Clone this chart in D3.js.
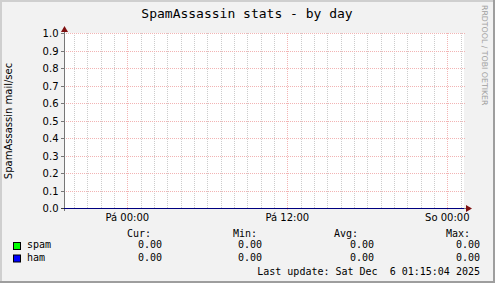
<!DOCTYPE html>
<html>
<head>
<meta charset="utf-8">
<title>SpamAssassin stats - by day</title>
<script src="https://cdn.jsdelivr.net/npm/d3@7"></script>
<style>
  body { margin: 0; background: #f2f2f2; }
  svg text { fill: #000; }
  .mono { font-family: "DejaVu Sans Mono", monospace; }
  .sans { font-family: "DejaVu Sans", sans-serif; }
</style>
</head>
<body>
<script>
// ---- data ----
var sampleTimes = ["2025-12-04T19:15:04", "2025-12-05T00:00:00", "2025-12-05T06:00:00",
                   "2025-12-05T12:00:00", "2025-12-05T18:00:00", "2025-12-06T00:00:00",
                   "2025-12-06T01:15:04"];
var spamValues = [0, 0, 0, 0, 0, 0, 0];
var hamValues  = [0, 0, 0, 0, 0, 0, 0];

var yTicks = [0.0, 0.1, 0.2, 0.3, 0.4, 0.5, 0.6, 0.7, 0.8, 0.9, 1.0];
var xMajorTimes  = ["2025-12-05T00:00:00", "2025-12-05T12:00:00", "2025-12-06T00:00:00"];
var xMajorLabels = ["Pá 00:00", "Pá 12:00", "So 00:00"];

var seriesNames  = ["spam", "ham"];
var seriesColors = ["#00ff00", "#0000ff"];
var statHeads = ["Cur:", "Min:", "Avg:", "Max:"];
var statValues = [["0.00", "0.00", "0.00", "0.00"],
                  ["0.00", "0.00", "0.00", "0.00"]];
var lastUpdate = "Last update: Sat Dec  6 01:15:04 2025";

var W = 495, H = 283;
var parse = d3.utcParse("%Y-%m-%dT%H:%M:%S");
var tStart = parse(sampleTimes[0]), tEnd = parse(sampleTimes[sampleTimes.length - 1]);

// plot box
var plotL = 64, plotR = 464, plotT = 33, plotB = 208;

var x = d3.scaleUtc().domain([tStart, tEnd]).range([plotL, plotR]);
var y = d3.scaleLinear().domain([0, 1]).range([plotB, plotT]);
function px(v) { return Math.round(v) + 0.5; }

var svg = d3.select("body").append("svg")
  .attr("width", W).attr("height", H)
  .style("display", "block");

// background and 3d-ish frame
svg.append("rect").attr("width", W).attr("height", H).attr("fill", "#f2f2f2");
svg.append("rect").attr("x", 0).attr("y", 0).attr("width", W).attr("height", 2).attr("fill", "#cfcfcf");
svg.append("rect").attr("x", 0).attr("y", 0).attr("width", 2).attr("height", H).attr("fill", "#cfcfcf");
svg.append("rect").attr("x", 0).attr("y", H - 2).attr("width", W).attr("height", 2).attr("fill", "#9e9e9e");
svg.append("rect").attr("x", W - 2).attr("y", 0).attr("width", 2).attr("height", H).attr("fill", "#9e9e9e");

// canvas
svg.append("rect").attr("x", plotL).attr("y", plotT)
  .attr("width", plotR - plotL).attr("height", plotB - plotT).attr("fill", "#ffffff");

// vertical grid: minor every hour, major every 12 hours
var majorSet = xMajorTimes.map(function (s) { return +parse(s); });
var hours = d3.utcHour.range(d3.utcHour.ceil(tStart), tEnd);
svg.append("g").selectAll("line")
  .data(hours.filter(function (d) { return majorSet.indexOf(+d) < 0; }))
  .enter().append("line")
  .attr("x1", function (d) { return px(x(d)); })
  .attr("x2", function (d) { return px(x(d)); })
  .attr("y1", plotT).attr("y2", plotB)
  .attr("stroke", "#cccccc").attr("stroke-dasharray", "1,1")
  .attr("shape-rendering", "crispEdges");

svg.append("g").selectAll("line")
  .data(xMajorTimes)
  .enter().append("line")
  .attr("x1", function (d) { return px(x(parse(d))); })
  .attr("x2", function (d) { return px(x(parse(d))); })
  .attr("y1", plotT).attr("y2", plotB + 2)
  .attr("stroke", "#f2b4b4").attr("stroke-dasharray", "1,1")
  .attr("shape-rendering", "crispEdges");

// horizontal grid
svg.append("g").selectAll("line")
  .data(yTicks.filter(function (d) { return d > 0; }))
  .enter().append("line")
  .attr("x1", plotL).attr("x2", plotR + 2)
  .attr("y1", function (d) { return px(y(d)); })
  .attr("y2", function (d) { return px(y(d)); })
  .attr("stroke", "#f2b4b4").attr("stroke-dasharray", "1,1")
  .attr("shape-rendering", "crispEdges");

// y tick labels and tick marks
var yAxis = d3.axisLeft(y).tickValues(yTicks).tickFormat(d3.format(".1f")).tickSize(4).tickPadding(2);
var gy = svg.append("g").attr("transform", "translate(" + px(plotL) + ",0)").call(yAxis);
gy.select(".domain").remove();
gy.selectAll(".tick").attr("transform", function (d) { return "translate(0," + px(y(d)) + ")"; });
gy.selectAll(".tick line").attr("stroke", "#777").attr("shape-rendering", "crispEdges");
gy.selectAll("text").attr("class", "sans").attr("fill", "#000").attr("dy", "0.36em")
  .style("font-size", "10px");
gy.attr("font-family", null).attr("font-size", null);

// x labels
svg.append("g").selectAll("text")
  .data(xMajorTimes)
  .enter().append("text")
  .attr("class", "sans")
  .attr("x", function (d) { return x(parse(d)); })
  .attr("y", 221)
  .attr("text-anchor", "middle")
  .style("font-size", "10px")
  .text(function (d, i) { return xMajorLabels[i]; });

// y axis line
svg.append("line").attr("x1", px(plotL)).attr("x2", px(plotL))
  .attr("y1", 30).attr("y2", plotB + 3)
  .attr("stroke", "#777").attr("shape-rendering", "crispEdges");

// data lines
var line = d3.line()
  .x(function (d) { return x(parse(d[0])); })
  .y(function (d) { return px(y(d[1])); });
[spamValues, hamValues].forEach(function (vals, i) {
  svg.append("path")
    .datum(sampleTimes.map(function (t, j) { return [t, vals[j]]; }))
    .attr("d", line)
    .attr("fill", "none")
    .attr("stroke", seriesColors[i])
    .attr("shape-rendering", "crispEdges");
});

// x axis line drawn over the data, as rrdtool does
svg.append("line").attr("x1", plotL - 3).attr("x2", plotR + 4)
  .attr("y1", px(plotB)).attr("y2", px(plotB))
  .attr("stroke", "#000").attr("stroke-opacity", 0.5)
  .attr("shape-rendering", "crispEdges");

// arrows
svg.append("path")
  .attr("d", "M" + (plotL - 3) + ",32 L" + (plotL + 4) + ",32 L" + (plotL + 0.5) + ",26 Z")
  .attr("fill", "#7f1010");
svg.append("path")
  .attr("d", "M" + (plotR + 2) + "," + (plotB - 3) + " L" + (plotR + 2) + "," + (plotB + 4) + " L" + (plotR + 8) + "," + (plotB + 0.5) + " Z")
  .attr("fill", "#7f1010");

// title
svg.append("text").attr("class", "mono")
  .attr("x", 247).attr("y", 18).attr("text-anchor", "middle")
  .style("font-size", "13px")
  .text("SpamAssassin stats - by day");

// vertical axis label
svg.append("text").attr("class", "sans")
  .attr("transform", "translate(11.5,121) rotate(-90)")
  .attr("text-anchor", "middle")
  .style("font-size", "10px")
  .text("SpamAssassin mail/sec");

// watermark
svg.append("text").attr("class", "sans")
  .attr("transform", "translate(481.5,5) rotate(90)")
  .attr("text-anchor", "start")
  .style("font-size", "7.8px")
  .style("fill", "#a0a0a0")
  .text("RRDTOOL / TOBI OETIKER");

// legend
var headX = [127, 233, 334, 446];
var valX = [162, 262, 374, 480];
svg.append("g").selectAll("text")
  .data(statHeads).enter().append("text")
  .attr("class", "mono").style("font-size", "10px")
  .attr("x", function (d, i) { return headX[i]; })
  .attr("y", 237)
  .text(function (d) { return d; });

var rowY = [248, 260.5];
seriesNames.forEach(function (name, r) {
  svg.append("rect")
    .attr("x", 13.5).attr("y", rowY[r] - 5.5)
    .attr("width", 7).attr("height", 7)
    .attr("fill", seriesColors[r]).attr("stroke", "#000").attr("stroke-width", 1);
  svg.append("text").attr("class", "mono").style("font-size", "10px")
    .attr("x", 27).attr("y", rowY[r]).text(name);
  svg.append("g").selectAll("text")
    .data(statValues[r]).enter().append("text")
    .attr("class", "mono").style("font-size", "10px")
    .attr("x", function (d, i) { return valX[i]; })
    .attr("y", rowY[r])
    .attr("text-anchor", "end")
    .text(function (d) { return d; });
});

svg.append("text").attr("class", "mono").style("font-size", "10px")
  .attr("x", 480).attr("y", 275).attr("text-anchor", "end")
  .attr("xml:space", "preserve").style("white-space", "pre")
  .text(lastUpdate);
</script>
</body>
</html>
